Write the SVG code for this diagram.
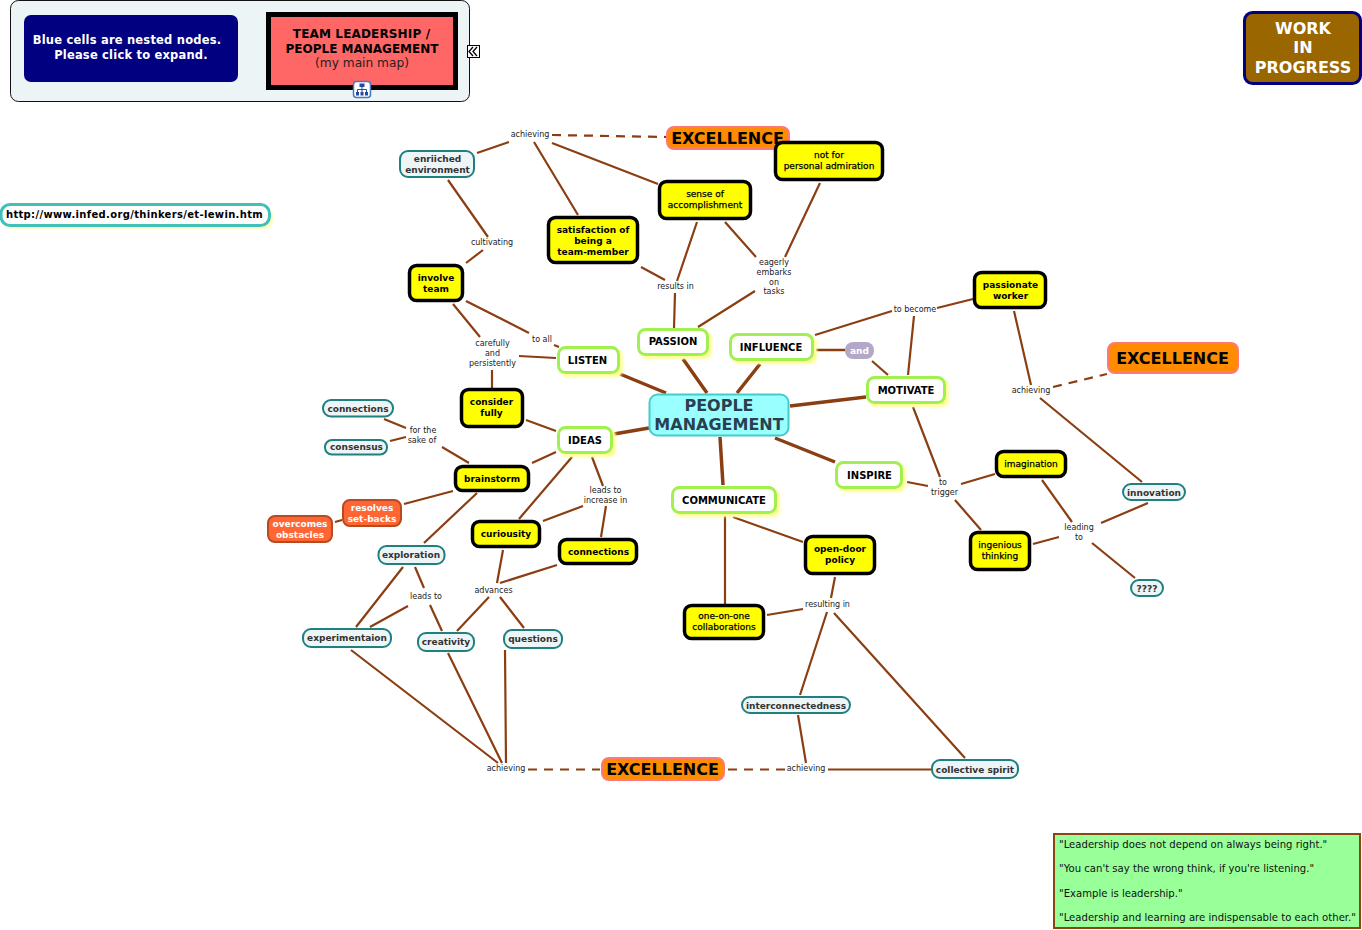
<svg xmlns="http://www.w3.org/2000/svg" width="1362" height="930" viewBox="0 0 1362 930">
<defs>
<filter id="sh" x="-10%" y="-10%" width="125%" height="135%"><feGaussianBlur stdDeviation="1"/></filter>
</defs>
<style>
text{font-family:"DejaVu Sans","Liberation Sans",sans-serif;text-anchor:middle}
.c{fill:none;stroke:#8b3e12;stroke-width:2.200}
.th{stroke-width:3.500}
.md{stroke-width:2.500}
.d{stroke-dasharray:9 7}
.y rect{fill:#ff0;stroke:#000;stroke-width:3.500}
.y text{font-size:9px;font-weight:bold;fill:#000}
.yr text{font-size:9px;font-weight:normal;fill:#000;stroke:#000;stroke-width:.25}
.g rect.b{fill:#fff;stroke:#a0f050;stroke-width:3}
.g rect.s{fill:#ffff99;filter:url(#sh)}
.g text{font-size:10px;font-weight:bold;fill:#000}
.t rect{fill:#edf5f7;stroke:#1f8080;stroke-width:2}
.t text{font-size:9px;font-weight:bold;fill:#333}
.o rect{fill:#f63;stroke:#b84a20;stroke-width:2}
.o text{font-size:9px;font-weight:bold;fill:#fff}
.e rect{fill:#ff8c00;stroke:#f77;stroke-width:2}
.e text{font-size:16px;font-weight:bold;fill:#000}
.l text{font-size:8px;fill:#222}
</style>
<rect x="10.500" y="0.500" width="459" height="101" rx="8" fill="#edf4f6" stroke="#111"/>
<g id="connectors">
<path class="c" d="M477 153L509 142M534 142L578 215M552 143L658 184M448 180L488 237M483 250L466 263M466 301L529 333M554 345L559 347M453 304L480 337M519 356L556 358M492 370V388M697 222L677 281M725 222L756 257M820 183L785 257M641 267L665 280M675 293L674 328M755 291L698 327M815 335L892 311M937 308L973 299M914 316L908 375M872 361L888 375"/>
<path class="c md" d="M816 350H845"/>
<path class="c th" d="M620 374L666 393M683 359L707 393M760 364L737 393M790 406L866 397M614 434L649 428M720 437L723 485M775 438L835 462"/>
<path class="c" d="M913 407L940 477M907 482L928 486M961 484L995 474M955 500L981 530M733 517L803 542M725 516V604M835 577L831 598M803 609L767 615M827 612L800 695M834 613L965 758M798 715L806 763M828 769.500H931M351 650L498 763M448 653L502 763M505 650L506 763M1014 311L1031 385M1040 398L1142 482M1042 480L1072 522M1033 544L1059 537M1101 523L1148 503M1092 543L1135 578M384 419L406 428M390 441L406 437M442 447L469 463M532 463L556 452M526 420L556 431M572 457L519 519M592 457L603 486M583 506L543 521M606 506L601 537M503 550L497 583M557 565L500 583M489 597L457 631M500 597L524 628M453 491L404 504M342 520L335 522M477 493L424 543M403 567L356 627M415 567L424 588M408 606L370 627M430 605L442 631"/>
<path class="c d" d="M552 135L666 137M528 769.500H600M728 769.500H785M1053 387L1107 374"/>
</g>
<g id="help" >
<rect x="24" y="15" width="214" height="67" rx="7" fill="#000080"/>
<text x="127" y="44" font-size="11.500" font-weight="bold" fill="#fff" letter-spacing=".2">Blue cells are nested nodes.</text>
<text x="131" y="59" font-size="11.500" font-weight="bold" fill="#fff" letter-spacing=".2">Please click to expand.</text>
</g>
<g id="title">
<rect x="268.500" y="14.500" width="187" height="73" fill="#f66" stroke="#000" stroke-width="5"/>
<text x="361.500" y="38" font-size="12" font-weight="bold" fill="#000" letter-spacing=".15">TEAM LEADERSHIP /</text>
<text x="362" y="52.500" font-size="12" font-weight="bold" fill="#000">PEOPLE MANAGEMENT</text>
<text x="362" y="67" font-size="12.200" fill="#222">(my main map)</text>
</g>
<g id="collapse-icon">
<rect x="467.500" y="45.500" width="12" height="12" fill="#fff" stroke="#000"/>
<path d="M473 47L469 51.500L473 56M477 47L473 51.500L477 56" fill="none" stroke="#000" stroke-width="1.300"/>
</g>
<g id="map-icon">
<rect x="353.500" y="81.500" width="17" height="16" rx="3" fill="#fff" stroke="#4a78c0" stroke-width="1.500"/>
<path d="M359.500 83.500H364.500V87H359.500ZM356 92H359V95.500H356ZM360.500 92H363.500V95.500H360.500ZM365 92H368V95.500H365Z" fill="#24489c"/>
<path d="M362 87V92M357.500 92V89.500H366.500V92" fill="none" stroke="#24489c"/>
</g>
<g id="work" >
<rect x="1244.500" y="12.500" width="116" height="71" rx="8" fill="#960" stroke="#000080" stroke-width="3"/>
<text x="1303" y="34" font-size="16" font-weight="bold" fill="#fff">WORK</text>
<text x="1303" y="53" font-size="16" font-weight="bold" fill="#fff">IN</text>
<text x="1303" y="72.500" font-size="16" font-weight="bold" fill="#fff">PROGRESS</text>
</g>
<g id="url">
<rect x="4" y="208" width="269" height="21" rx="9" fill="#ffffb0" filter="url(#sh)"/>
<rect x="1" y="204.500" width="268.500" height="21" rx="9" fill="#fff" stroke="#40c0b8" stroke-width="3"/>
<text x="134.500" y="217.500" font-size="10" font-weight="bold" fill="#000" letter-spacing=".33">http://www.infed.org/thinkers/et-lewin.htm</text>
</g>
<g id="quotes">
<rect x="1054" y="834" width="306" height="94" fill="#9f9" stroke="#8b4513" stroke-width="2"/>
<g style="font-size:10.100px;fill:#111">
<text x="1059" y="847.500" style="text-anchor:start">"Leadership does not depend on always being right."</text>
<text x="1059" y="872" style="text-anchor:start">"You can't say the wrong think, if you're listening."</text>
<text x="1059" y="896.500" style="text-anchor:start">"Example is leadership."</text>
<text x="1059" y="920.500" style="text-anchor:start">"Leadership and learning are indispensable to each other."</text>
</g>
</g>
<g id="people-management"><rect x="649.500" y="394.500" width="139" height="41" rx="8" fill="#9ff" stroke="#4cc" stroke-width="2"/>
<text x="719" y="410.500" font-size="16" font-weight="bold" fill="#2a4050">PEOPLE</text><text x="719" y="429.500" font-size="16" font-weight="bold" fill="#2a4050">MANAGEMENT</text></g>
<g id="excellence-top" class="e"><rect x="667" y="127" width="122" height="22" rx="7"/><text x="727.500" y="144">EXCELLENCE</text></g>
<g id="excellence-right" class="e"><rect x="1108" y="343" width="130" height="30" rx="7"/><text x="1172.500" y="364">EXCELLENCE</text></g>
<g id="excellence-bottom" class="e"><rect x="602" y="758" width="122" height="22" rx="7"/><text x="662.500" y="775">EXCELLENCE</text></g>
<g id="not-for" class="y yr"><rect x="775.500" y="142.500" width="107" height="37" rx="7"/><text x="829" y="158">not for</text><text x="829" y="169">personal admiration</text></g>
<g id="sense" class="y yr"><rect x="659.500" y="181.500" width="91" height="37" rx="7"/><text x="705" y="197">sense of</text><text x="705" y="208">accomplishment</text></g>
<g id="satisfaction" class="y"><rect x="548.500" y="217.500" width="89" height="45" rx="7"/><text x="593" y="233">satisfaction of</text><text x="593" y="244">being a</text><text x="593" y="255">team-member</text></g>
<g id="involve" class="y"><rect x="409.500" y="265.500" width="53" height="35" rx="7"/><text x="436" y="281">involve</text><text x="436" y="292">team</text></g>
<g id="consider" class="y"><rect x="461.500" y="389.500" width="61" height="37" rx="7"/><text x="491.500" y="405">consider</text><text x="491.500" y="416">fully</text></g>
<g id="brainstorm" class="y"><rect x="455.500" y="466.500" width="73" height="24" rx="7"/><text x="492" y="482">brainstorm</text></g>
<g id="curiousity" class="y"><rect x="472.500" y="521.500" width="67" height="25" rx="7"/><text x="506" y="537">curiousity</text></g>
<g id="connections-y" class="y"><rect x="559.500" y="539.500" width="77" height="24" rx="7"/><text x="598.500" y="555">connections</text></g>
<g id="passionate" class="y"><rect x="974.500" y="272.500" width="71" height="35" rx="7"/><text x="1010.500" y="288">passionate</text><text x="1010.500" y="299">worker</text></g>
<g id="imagination" class="y yr"><rect x="996.500" y="451.500" width="69" height="25" rx="7"/><text x="1031" y="467">imagination</text></g>
<g id="ingenious" class="y yr"><rect x="970.500" y="532.500" width="59" height="37" rx="7"/><text x="1000" y="548">ingenious</text><text x="1000" y="559">thinking</text></g>
<g id="open-door" class="y"><rect x="805.500" y="536.500" width="69" height="37" rx="7"/><text x="840" y="552">open-door</text><text x="840" y="563">policy</text></g>
<g id="one-on-one" class="y yr"><rect x="684.500" y="605.500" width="79" height="33" rx="7"/><text x="724" y="619">one-on-one</text><text x="724" y="630">collaborations</text></g>
<g id="passion" class="g"><rect class="s" x="640" y="331" width="72" height="28" rx="7"/><rect class="b" x="638.500" y="329.500" width="69" height="25" rx="7"/><text x="673" y="345">PASSION</text></g>
<g id="influence" class="g"><rect class="s" x="732" y="336" width="85" height="28" rx="7"/><rect class="b" x="730.500" y="334.500" width="82" height="25" rx="7"/><text x="771" y="350.500">INFLUENCE</text></g>
<g id="listen" class="g"><rect class="s" x="560" y="349" width="63" height="28" rx="7"/><rect class="b" x="558.500" y="347.500" width="60" height="25" rx="7"/><text x="587.500" y="363.500">LISTEN</text></g>
<g id="ideas" class="g"><rect class="s" x="560" y="429" width="56" height="28" rx="7"/><rect class="b" x="558.500" y="427.500" width="53" height="25" rx="7"/><text x="585" y="443.500">IDEAS</text></g>
<g id="motivate" class="g"><rect class="s" x="869" y="379" width="80" height="28" rx="7"/><rect class="b" x="867.500" y="377.500" width="77" height="25" rx="7"/><text x="906" y="393.500">MOTIVATE</text></g>
<g id="inspire" class="g"><rect class="s" x="838" y="464" width="68" height="28" rx="7"/><rect class="b" x="836.500" y="462.500" width="65" height="25" rx="7"/><text x="869.500" y="478.500">INSPIRE</text></g>
<g id="communicate" class="g"><rect class="s" x="674" y="489" width="106" height="28" rx="7"/><rect class="b" x="672.500" y="487.500" width="103" height="25" rx="7"/><text x="724" y="503.500">COMMUNICATE</text></g>
<g id="and"><rect x="845" y="342" width="29" height="17" rx="8" fill="#b3a8c8"/><text x="859.500" y="354" font-size="9" font-weight="bold" fill="#fff">and</text></g>
<g id="enriched" class="t"><rect x="400" y="151" width="74" height="26" rx="8"/><text x="437.500" y="162">enriiched</text><text x="437.500" y="173">environment</text></g>
<g id="connections-t" class="t"><rect x="323" y="400" width="70" height="16.500" rx="8"/><text x="358" y="412">connections</text></g>
<g id="consensus" class="t"><rect x="325" y="440" width="62" height="14.500" rx="7"/><text x="356.500" y="449.500">consensus</text></g>
<g id="exploration" class="t"><rect x="378.500" y="546" width="66" height="18" rx="8"/><text x="411" y="558">exploration</text></g>
<g id="experimentaion" class="t"><rect x="303" y="629" width="88" height="18" rx="8"/><text x="347" y="641">experimentaion</text></g>
<g id="creativity" class="t"><rect x="418" y="633" width="56" height="18" rx="8"/><text x="446" y="645">creativity</text></g>
<g id="questions" class="t"><rect x="504" y="630" width="58" height="18" rx="8"/><text x="533" y="642">questions</text></g>
<g id="innovation" class="t"><rect x="1123" y="484" width="62" height="16" rx="8"/><text x="1154" y="496">innovation</text></g>
<g id="unknown" class="t"><rect x="1131" y="580" width="32" height="16" rx="8"/><text x="1147" y="592">????</text></g>
<g id="interconnectedness" class="t"><rect x="742" y="697" width="108" height="16" rx="8"/><text x="796" y="709">interconnectedness</text></g>
<g id="collective" class="t"><rect x="932" y="760" width="86" height="18" rx="8"/><text x="975" y="772.500">collective spirit</text></g>
<g id="resolves" class="o"><rect x="343" y="500" width="58" height="26" rx="7"/><text x="372" y="511">resolves</text><text x="372" y="522">set-backs</text></g>
<g id="overcomes" class="o"><rect x="268" y="516" width="64" height="26" rx="7"/><text x="300" y="526.500">overcomes</text><text x="300" y="537.500">obstacles</text></g>
<g id="labels" class="l">
<text x="530" y="137">achieving</text>
<text x="492" y="245">cultivating</text>
<text x="675.500" y="289">results in</text>
<text x="774" y="265">eagerly</text><text x="774" y="275">embarks</text><text x="774" y="285">on</text><text x="774" y="294">tasks</text>
<text x="915" y="312">to become</text>
<text x="542" y="342">to all</text>
<text x="492.500" y="346">carefully</text><text x="492.500" y="356">and</text><text x="492.500" y="366">persistently</text>
<text x="423" y="433">for the</text><text x="422" y="443">sake of</text>
<text x="605.500" y="493">leads to</text><text x="605.500" y="503">increase in</text>
<text x="493.500" y="593">advances</text>
<text x="426" y="599">leads to</text>
<text x="943" y="485">to</text><text x="944.500" y="495">trigger</text>
<text x="1031" y="393">achieving</text>
<text x="1079" y="530">leading</text><text x="1079" y="540">to</text>
<text x="827.500" y="607">resulting in</text>
<text x="806" y="771">achieving</text>
<text x="506" y="771">achieving</text>
</g>
</svg>
